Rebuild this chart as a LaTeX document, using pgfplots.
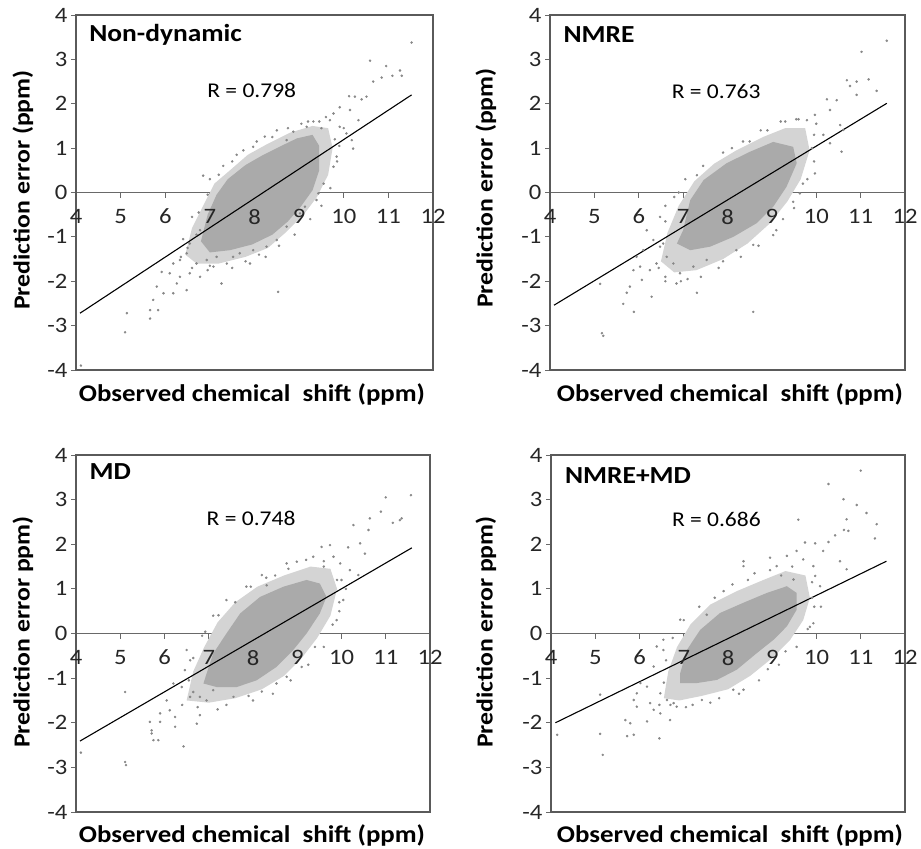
\documentclass[border=0pt]{standalone}
\usepackage{pgfplots}
\pgfplotsset{compat=1.18}
\usepackage{fontspec}
\setmainfont{Carlito}
\newfontfamily\wfont[FakeStretch=1.12]{Carlito}

\definecolor{frame}{RGB}{90,90,90}
\definecolor{zeroline}{RGB}{105,105,105}
\definecolor{dot}{RGB}{135,135,135}
\definecolor{core}{RGB}{170,170,170}
\definecolor{halo}{RGB}{212,212,212}

\pgfplotsset{
  base/.style={
    scale only axis,
    anchor=south west,
    xmin=4, xmax=12, ymin=-4, ymax=4,
    axis x line*=middle, axis y line*=left,
    xtick={4,...,12}, ytick={-4,...,4},
    hide obscured x ticks=false,
    tick align=outside,
    major tick length=5bp,
    tick style={zeroline, line width=0.9bp},
    axis line style={zeroline, line width=1bp},
    ticklabel style={font=\wfont\fontsize{22bp}{22bp}\selectfont, text=black!85},
    /pgf/number format/assume math mode=true,
    clip=false,
  },
  panel/.style={base, xticklabels={}},
  % second pass: x tick labels drawn above the point cloud
  xlabels/.style={base, hide y axis, axis line style={draw=none}, tick style={draw=none},
    xticklabel style={yshift=-8bp}},
  halo/.style={fill=halo, draw=none},
  core/.style={fill=core, draw=none},
  dots/.style={only marks, mark=*, mark size=1.05bp, dot, mark options={draw=none, fill=dot}},
  fit/.style={black, line width=1.1bp},
}
\newcommand{\frameaxis}{\draw[frame, line width=1.1bp] (rel axis cs:0,0) rectangle (rel axis cs:1,1);}
\newcommand{\ttl}{\wfont\fontsize{24.5bp}{26bp}\selectfont\bfseries}
\newcommand{\rlab}{\wfont\fontsize{21bp}{26bp}\selectfont}
\newcommand{\xlab}{\wfont\fontsize{24bp}{26bp}\selectfont\bfseries}
\newcommand{\ylab}{\wfont\fontsize{23bp}{26bp}\selectfont\bfseries}

\begin{document}
\begin{tikzpicture}
\useasboundingbox (0,0) rectangle (921bp,-849bp);

% ---- Non-dynamic ----
\begin{axis}[panel, at={(76bp,-370bp)}, width=357bp, height=355bp]
\frameaxis
\addplot[halo] coordinates {(6.45,-1.4) (6.6,-0.8) (6.85,-0.3) (7.1,0.2) (7.45,0.5) (7.85,0.85) (8.3,1.1) (8.8,1.35) (9.3,1.5) (9.65,1.45) (9.75,1.0) (9.65,0.4) (9.4,-0.1) (9.1,-0.5) (8.7,-0.9) (8.3,-1.25) (7.8,-1.45) (7.2,-1.6) (6.7,-1.6)} -- cycle;
\addplot[core] coordinates {(6.8,-1.1) (6.95,-0.5) (7.15,-0.05) (7.4,0.3) (7.8,0.62) (8.2,0.85) (8.6,1.05) (8.95,1.22) (9.3,1.3) (9.45,1.05) (9.45,0.5) (9.3,0.05) (9.05,-0.3) (8.75,-0.65) (8.4,-0.95) (7.95,-1.17) (7.45,-1.3) (7.0,-1.35)} -- cycle;
\addplot[dots] coordinates {(11.52,3.38) (10.59,2.97) (10.95,2.85) (11.26,2.75) (11.09,2.63) (11.3,2.63) (10.85,2.59) (10.66,2.5) (10.12,2.17) (10.25,2.16) (10.4,2.1) (10.51,2.16) (9.91,1.92) (9.77,1.78) (9.69,1.63) (10.14,1.86) (10.33,1.63) (9.91,1.48) (10.06,1.33) (10.18,1.18) (10.21,0.99) (9.84,0.81) (9.77,0.58) (9.43,-0.02) (9.39,-0.17) (9.32,1.6) (9.5,1.45) (9.17,1.48) (8.87,1.37) (8.72,1.18) (8.23,1.26) (7.97,1.03) (6.85,0.38) (6.78,-0.85) (6.55,-1.15) (6.48,-1.37) (6.33,-1.52) (6.18,-1.6) (6.7,-1.6) (6.78,-1.9) (6.55,-1.82) (6.33,-1.9) (6.1,-1.82) (5.92,-1.79) (6.26,-2.05) (5.96,-2.27) (5.81,-2.12) (6.18,-2.27) (6.48,-2.2) (7.26,-2.05) (5.73,-2.42) (5.84,-2.65) (5.66,-2.65) (5.66,-2.84) (5.14,-2.72) (5.1,-3.15) (4.11,-3.9) (8.53,-2.24) (7.08,-1.67) (6.93,-1.52) (7.38,-1.6) (7.52,-1.45) (7.67,-1.37) (7.15,-1.45) (7.97,-1.3) (8.27,-1.22) (8.5,-1.07) (8.72,-0.77) (9.02,-0.47) (9.13,-0.32) (9.6,1.7) (9.2,1.6) (9.55,0.2) (9.9,1.05) (10.0,1.45) (6.4,-1.05) (6.6,-0.55) (7.0,0.3) (7.3,0.6) (7.6,0.85) (8.5,1.4) (6.95,-1.75) (7.8,-1.55) (8.1,-1.4)
 (6.5,-1.25) (6.7,-0.95) (6.75,-0.45) (6.95,-0.05) (7.2,0.4) (7.5,0.7) (7.75,0.95) (8.05,1.15) (8.4,1.25) (8.75,1.45) (9.05,1.55) (9.45,1.6) (9.8,1.2) (9.85,0.7) (9.7,0.1) (9.5,-0.3) (9.25,-0.6) (8.9,-0.95) (8.55,-1.2) (8.25,-1.45) (7.9,-1.6) (7.5,-1.7) (7.0,-1.65) (6.6,-1.7) (6.35,-1.45)};
\addplot[fit] coordinates {(4.09,-2.72) (11.52,2.2)};
\node[anchor=base west, font=\ttl] at (axis cs:4.22,3.41) {Non-dynamic};
\node[anchor=base west, font=\rlab, inner sep=0pt] at (axis cs:6.94,2.13) {R = 0.798};
\end{axis}
\begin{axis}[xlabels, at={(76bp,-370bp)}, width=357bp, height=355bp]
\end{axis}

% ---- NMRE ----
\begin{axis}[panel, at={(550bp,-370bp)}, width=355bp, height=355bp]
\frameaxis
\addplot[halo] coordinates {(6.5,-1.55) (6.65,-0.9) (6.9,-0.3) (7.25,0.25) (7.7,0.65) (8.2,0.95) (8.8,1.25) (9.3,1.45) (9.75,1.45) (9.85,0.95) (9.65,0.3) (9.35,-0.2) (8.95,-0.7) (8.45,-1.15) (7.9,-1.5) (7.3,-1.75) (6.8,-1.8)} -- cycle;
\addplot[core] coordinates {(7.0,-0.85) (7.16,-0.17) (7.46,0.28) (7.98,0.66) (8.51,0.92) (9.03,1.14) (9.48,1.03) (9.56,0.66) (9.33,0.13) (9.03,-0.32) (8.66,-0.69) (8.13,-1.0) (7.61,-1.22) (7.16,-1.3) (6.86,-1.15)} -- cycle;
\addplot[dots] coordinates {(11.59,3.42) (11.02,3.17) (10.69,2.53) (10.76,2.4) (10.91,2.5) (11.18,2.55) (10.91,2.2) (11.36,2.29) (10.24,2.1) (10.46,2.08) (10.31,1.86) (9.97,1.75) (9.79,1.63) (10.54,1.52) (10.61,1.41) (10.16,1.3) (10.31,1.11) (10.57,0.92) (9.97,0.43) (9.48,-0.21) (9.63,-0.02) (9.03,-0.96) (8.58,-1.18) (7.31,0.39) (6.48,-0.55) (6.18,-0.85) (6.33,-1.07) (6.1,-1.3) (6.48,-1.22) (6.63,-1.45) (6.78,-1.6) (6.93,-1.82) (6.85,-2.05) (6.4,-1.6) (6.25,-1.75) (6.03,-1.67) (5.88,-1.75) (6.07,-1.97) (5.8,-2.12) (5.73,-2.26) (5.65,-2.51) (5.89,-2.69) (6.29,-2.35) (5.13,-2.06) (5.17,-3.17) (5.2,-3.23) (7.31,-2.26) (8.58,-2.69) (7.23,-1.67) (7.53,-1.52) (7.9,-1.55) (8.2,-1.3) (9.9,1.0) (10.0,1.55) (9.6,1.65) (9.3,1.6) (8.9,1.4) (8.5,1.15) (8.1,1.0) (9.7,0.2) (6.6,-0.3) (6.9,0.0) (7.1,-1.95) (6.6,-1.9) (5.95,-1.45) (9.25,-0.6)
 (6.45,-1.7) (6.55,-1.15) (6.6,-0.65) (6.8,-0.1) (7.05,0.3) (7.45,0.6) (7.9,0.9) (8.35,1.15) (8.75,1.4) (9.2,1.6) (9.55,1.65) (9.95,1.3) (9.95,0.7) (9.8,0.3) (9.5,-0.35) (9.1,-0.85) (8.7,-1.2) (8.3,-1.45) (7.8,-1.7) (7.4,-1.9) (6.95,-2.0) (6.6,-2.0)};
\addplot[fit] coordinates {(4.09,-2.54) (11.59,2.01)};
\node[anchor=base west, font=\ttl] at (axis cs:4.225,3.37) {NMRE};
\node[anchor=base west, font=\rlab, inner sep=0pt] at (axis cs:6.74,2.12) {R = 0.763};
\end{axis}
\begin{axis}[xlabels, at={(550bp,-370bp)}, width=355bp, height=355bp]
\end{axis}

% ---- MD ----
\begin{axis}[panel, at={(76bp,-812bp)}, width=354bp, height=357bp]
\frameaxis
\addplot[halo] coordinates {(6.5,-1.5) (6.65,-0.85) (6.9,-0.3) (7.2,0.25) (7.6,0.7) (8.1,1.05) (8.7,1.3) (9.3,1.5) (9.75,1.45) (9.9,1.0) (9.75,0.4) (9.45,-0.1) (9.1,-0.55) (8.7,-0.95) (8.2,-1.25) (7.6,-1.45) (7.0,-1.55)} -- cycle;
\addplot[core] coordinates {(6.88,-1.12) (6.95,-0.9) (7.1,-0.45) (7.4,0.0) (7.71,0.45) (8.16,0.82) (8.69,1.05) (9.21,1.2) (9.51,1.12) (9.66,0.82) (9.51,0.45) (9.21,0.0) (8.91,-0.37) (8.53,-0.75) (8.08,-1.05) (7.63,-1.2) (7.18,-1.2)} -- cycle;
\addplot[dots] coordinates {(11.57,3.1) (11.0,3.05) (10.89,2.73) (10.64,2.58) (11.32,2.54) (11.16,2.48) (11.36,2.58) (10.61,2.32) (10.42,2.02) (10.27,2.43) (9.55,1.94) (9.74,1.98) (10.15,1.93) (10.53,1.79) (9.97,1.57) (10.19,1.42) (10.38,1.31) (9.82,1.72) (9.36,1.72) (8.99,1.61) (8.76,1.57) (8.31,1.08) (8.2,1.31) (9.89,0.3) (10.04,0.75) (7.22,0.41) (6.92,0.04) (6.5,-0.37) (6.58,-0.6) (6.46,-0.82) (6.2,-1.12) (6.39,-1.2) (6.58,-1.42) (6.8,-1.42) (6.95,-1.5) (6.65,-1.31) (7.1,-1.27) (7.56,-1.42) (6.05,-1.5) (5.9,-1.79) (6.12,-1.72) (6.24,-1.87) (5.9,-1.98) (5.67,-1.98) (6.8,-1.83) (6.73,-2.02) (6.24,-2.09) (5.71,-2.17) (5.71,-2.24) (5.75,-2.39) (5.86,-2.39) (6.43,-2.53) (5.11,-1.31) (5.11,-2.88) (5.13,-2.95) (4.11,-2.67) (8.53,-1.12) (8.76,-0.97) (9.6,1.5) (9.9,1.2) (10.1,1.0) (9.95,0.5) (9.4,-0.3) (9.1,-0.75) (7.9,-1.4) (8.2,-1.3) (7.4,-1.6) (7.6,0.7) (7.95,1.05) (8.5,1.3)
 (6.4,-1.6) (6.55,-1.05) (6.65,-0.55) (6.85,-0.05) (7.1,0.4) (7.4,0.75) (7.85,1.05) (8.3,1.25) (8.8,1.45) (9.2,1.65) (9.6,1.62) (10.0,1.2) (9.95,0.7) (9.8,0.2) (9.6,-0.3) (9.25,-0.7) (8.85,-1.05) (8.45,-1.35) (8.0,-1.5) (7.2,-1.7) (6.75,-1.65)};
\addplot[fit] coordinates {(4.09,-2.41) (11.59,1.92)};
\node[anchor=base west, font=\ttl] at (axis cs:4.226,3.44) {MD};
\node[anchor=base west, font=\rlab, inner sep=0pt] at (axis cs:6.95,2.41) {R = 0.748};
\end{axis}
\begin{axis}[xlabels, at={(76bp,-812bp)}, width=354bp, height=357bp]
\end{axis}

% ---- NMRE+MD ----
\begin{axis}[panel, at={(551bp,-812bp)}, width=354bp, height=357bp]
\frameaxis
\addplot[halo] coordinates {(6.55,-1.45) (6.65,-0.85) (6.85,-0.3) (7.15,0.2) (7.6,0.65) (8.2,0.95) (8.8,1.2) (9.3,1.4) (9.75,1.3) (9.85,0.8) (9.7,0.3) (9.4,-0.15) (9.0,-0.55) (8.5,-0.95) (8.0,-1.25) (7.4,-1.4) (6.9,-1.5)} -- cycle;
\addplot[core] coordinates {(6.92,-1.11) (6.92,-0.89) (7.07,-0.37) (7.37,0.08) (7.82,0.46) (8.35,0.69) (8.88,0.91) (9.33,1.06) (9.55,0.91) (9.55,0.53) (9.33,0.16) (9.03,-0.14) (8.65,-0.44) (8.2,-0.81) (7.75,-1.04) (7.3,-1.11)} -- cycle;
\addplot[dots] coordinates {(11.0,3.65) (10.27,3.35) (10.61,3.01) (10.91,2.88) (9.59,2.55) (11.13,2.7) (10.68,2.56) (10.72,2.3) (10.62,2.32) (11.36,2.45) (11.32,2.13) (10.42,2.2) (10.27,2.05) (9.97,2.02) (9.74,2.04) (10.15,1.85) (9.55,1.85) (10.53,1.62) (10.68,1.44) (9.93,1.51) (9.7,1.66) (9.33,1.74) (8.95,1.7) (8.35,1.62) (8.35,1.51) (9.1,1.51) (9.48,1.21) (9.97,1.29) (10.08,1.06) (9.93,0.23) (6.92,0.31) (7.52,0.42) (6.54,-0.14) (6.39,-0.29) (6.54,-0.37) (6.32,-0.74) (6.02,-1.11) (6.17,-1.19) (6.47,-1.34) (6.62,-1.49) (6.77,-1.56) (6.84,-1.64) (5.94,-1.34) (5.87,-1.49) (6.24,-1.56) (6.32,-1.71) (5.94,-1.64) (6.47,-1.79) (6.69,-1.94) (6.17,-1.97) (5.68,-1.94) (5.79,-2.01) (5.72,-2.3) (5.87,-2.27) (6.45,-2.35) (5.11,-1.37) (5.11,-2.25) (5.17,-2.72) (4.14,-2.27) (7.41,-1.49) (8.35,-1.26) (8.12,-1.26) (9.9,0.8) (10.1,0.6) (9.8,0.1) (9.3,-0.4) (8.9,-0.8) (7.8,-1.45) (7.2,-1.6) (7.7,0.8) (8.1,1.1) (8.6,1.35) (9.2,1.3)
 (6.45,-1.6) (6.55,-1.1) (6.6,-0.6) (6.75,-0.1) (7.0,0.3) (7.35,0.6) (7.9,0.95) (8.45,1.2) (8.95,1.42) (9.45,1.5) (9.9,1.15) (9.95,0.6) (9.85,0.15) (9.55,-0.3) (9.15,-0.7) (8.7,-1.05) (8.25,-1.35) (7.6,-1.55) (7.05,-1.65) (6.7,-1.6)};
\addplot[fit] coordinates {(4.1,-2.0) (11.58,1.62)};
\node[anchor=base west, font=\ttl] at (axis cs:4.24,3.36) {NMRE+MD};
\node[anchor=base west, font=\rlab, inner sep=0pt] at (axis cs:6.73,2.4) {R = 0.686};
\end{axis}
\begin{axis}[xlabels, at={(551bp,-812bp)}, width=354bp, height=357bp]
\end{axis}

% axis titles
\node[font=\xlab, anchor=base] at (252bp,-401bp) {Observed chemical~~shift (ppm)};
\node[font=\xlab, anchor=base] at (730bp,-401bp) {Observed chemical~~shift (ppm)};
\node[font=\xlab, anchor=base] at (252bp,-842bp) {Observed chemical~~shift (ppm)};
\node[font=\xlab, anchor=base] at (730bp,-842bp) {Observed chemical~~shift (ppm)};
\node[font=\ylab, rotate=90] at (23bp,-190bp) {Prediction error (ppm)};
\node[font=\ylab, rotate=90] at (486bp,-188bp) {Prediction error (ppm)};
\node[font=\ylab, rotate=90] at (23bp,-632bp) {Prediction error ppm)};
\node[font=\ylab, rotate=90] at (486bp,-632bp) {Prediction error ppm)};
\end{tikzpicture}
\end{document}
